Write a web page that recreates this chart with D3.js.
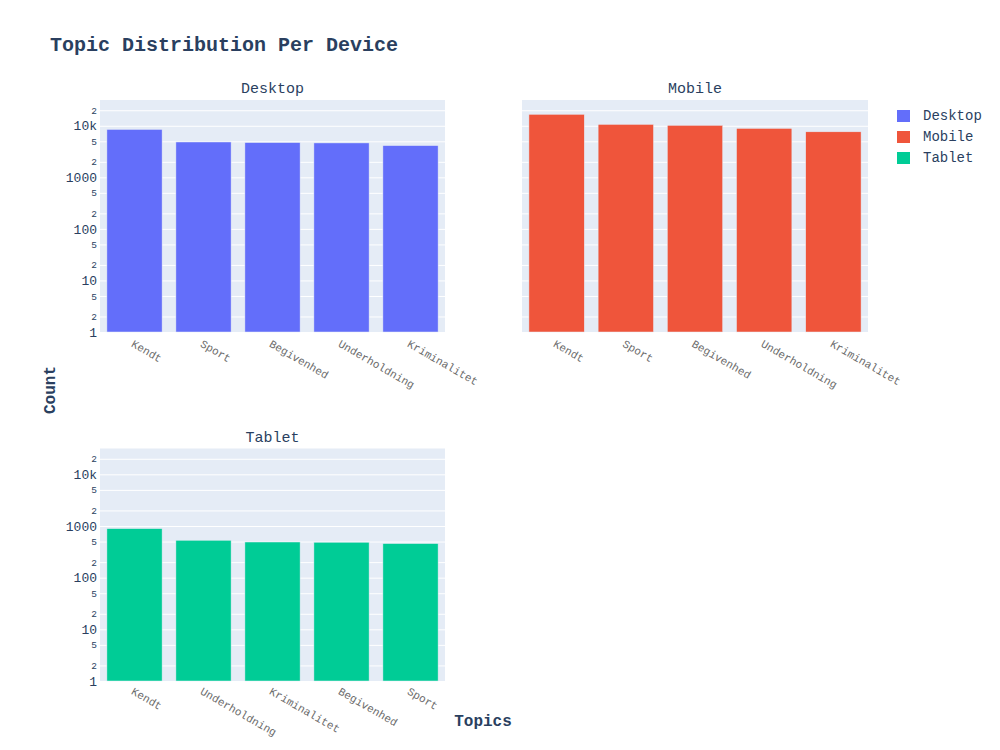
<!DOCTYPE html>
<html>
<head>
<meta charset="utf-8">
<script src="https://cdn.jsdelivr.net/npm/d3@7"></script>
<style>
  body { margin: 0; background: #fff; }
  svg { font-family: "Courier New", "Liberation Mono", monospace; }
</style>
</head>
<body>
<svg id="chart" width="1000" height="750"></svg>
<script>
const devices = ["Desktop", "Mobile", "Tablet"];
const desktopTopics = ["Kendt", "Sport", "Begivenhed", "Underholdning", "Kriminalitet"];
const desktopCounts = [8500, 4850, 4720, 4650, 4130];
const mobileTopics = ["Kendt", "Sport", "Begivenhed", "Underholdning", "Kriminalitet"];
const mobileCounts = [16700, 10650, 10200, 8900, 7640];
const tabletTopics = ["Kendt", "Underholdning", "Kriminalitet", "Begivenhed", "Sport"];
const tabletCounts = [890, 530, 490, 485, 457];
const yTickValues = [1, 2, 5, 10, 20, 50, 100, 200, 500, 1000, 2000, 5000, 10000, 20000];
const yTickLabels = ["1", "2", "5", "10", "2", "5", "100", "2", "5", "1000", "2", "5", "10k", "2"];
const colors = {Desktop: "#636efa", Mobile: "#EF553B", Tablet: "#00cc96"};

const svg = d3.select("#chart");
const textColor = "#2a3f5f";

const panels = [
  {name: "Desktop", topics: desktopTopics, counts: desktopCounts, x0: 100, x1: 445, y0: 100, y1: 332, showY: true, lblY: 14},
  {name: "Mobile", topics: mobileTopics, counts: mobileCounts, x0: 522, x1: 868, y0: 100, y1: 332, showY: false, lblY: 14},
  {name: "Tablet", topics: tabletTopics, counts: tabletCounts, x0: 100, x1: 445, y0: 448.5, y1: 681, showY: true, lblY: 12.5}
];

const majors = new Set([1, 10, 100, 1000, 10000]);

panels.forEach(p => {
  const g = svg.append("g");
  g.append("rect").attr("x", p.x0).attr("y", p.y0).attr("width", p.x1 - p.x0).attr("height", p.y1 - p.y0).attr("fill", "#E5ECF6");

  const y = d3.scaleLog().domain([1, Math.pow(10, 4.5)]).range([p.y1, p.y0]);
  const x = d3.scaleBand().domain(p.topics).range([p.x0, p.x1]).paddingInner(0.2).paddingOuter(0.1);

  // gridlines
  const grid = g.append("g").attr("transform", `translate(${p.x0},0)`)
    .call(d3.axisLeft(y).tickValues(yTickValues).tickSize(-(p.x1 - p.x0)).tickFormat(""));
  grid.select(".domain").remove();
  grid.selectAll("line").attr("stroke", "#fff").attr("stroke-width", 1);

  // bars
  g.selectAll("rect.bar").data(p.topics.map((t, i) => ({t, v: p.counts[i]})))
    .enter().append("rect").attr("class", "bar")
    .attr("x", d => x(d.t)).attr("width", x.bandwidth())
    .attr("y", d => y(d.v)).attr("height", d => y(1) - y(d.v))
    .attr("fill", colors[p.name]).attr("stroke", "#E5ECF6").attr("stroke-width", 0.5);

  // y axis labels
  if (p.showY) {
    const ya = g.append("g").attr("transform", `translate(${p.x0},0)`)
      .call(d3.axisLeft(y).tickValues(yTickValues).tickSize(0).tickPadding(3)
        .tickFormat((d, i) => yTickLabels[i]));
    ya.select(".domain").remove();
    ya.selectAll("text")
      .attr("fill", textColor)
      .attr("font-family", '"Courier New", "Liberation Mono", monospace')
      .attr("font-size", d => majors.has(d) ? 13 : 9.5);
  }

  // x axis labels
  const xa = g.append("g").attr("transform", `translate(0,${p.y1})`)
    .call(d3.axisBottom(x).tickSize(0));
  xa.select(".domain").remove();
  xa.selectAll("text")
    .attr("fill", "#6b6b6b")
    .attr("font-family", '"Courier New", "Liberation Mono", monospace')
    .attr("font-size", 11)
    .attr("y", 0).attr("dy", 0)
    .attr("text-anchor", "start")
    .attr("transform", `translate(-4,${p.lblY}) rotate(30)`);

  // subplot title
  g.append("text").attr("x", (p.x0 + p.x1) / 2).attr("y", p.y0 - 7)
    .attr("text-anchor", "middle").attr("fill", textColor).attr("font-size", 15)
    .text(p.name);
});

// main title
svg.append("text").attr("x", 50).attr("y", 51).attr("fill", textColor)
  .attr("font-size", 20).attr("font-weight", "bold").text("Topic Distribution Per Device");

// axis titles
svg.append("text").attr("transform", "translate(55,390) rotate(-90)")
  .attr("text-anchor", "middle").attr("fill", textColor).attr("font-size", 16).attr("font-weight", "bold").text("Count");
svg.append("text").attr("x", 483).attr("y", 726)
  .attr("text-anchor", "middle").attr("fill", textColor).attr("font-size", 16).attr("font-weight", "bold").text("Topics");

// legend
const lg = svg.append("g");
devices.forEach((d, i) => {
  lg.append("rect").attr("x", 897).attr("y", 110 + i * 21).attr("width", 13).attr("height", 12)
    .attr("fill", colors[d]);
  lg.append("text").attr("x", 923).attr("y", 120 + i * 21).attr("fill", textColor)
    .attr("font-size", 14).text(d);
});
</script>
</body>
</html>
